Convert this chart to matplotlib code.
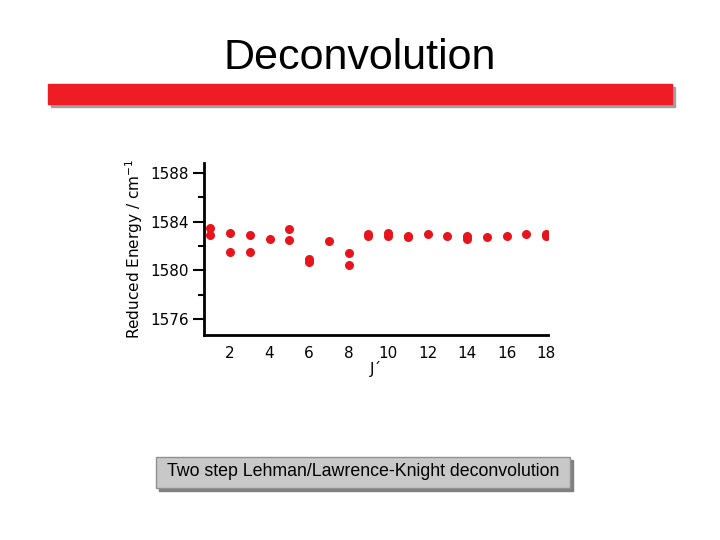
import matplotlib
matplotlib.use('Agg')
import matplotlib.pyplot as plt
from matplotlib.patches import Rectangle

J = [1, 1, 2, 2, 3, 3, 4, 5, 5, 6, 6, 7, 8, 8, 9, 9, 10, 10, 11, 11,
     12, 13, 14, 14, 15, 16, 17, 18, 18]
energy = [1583.5, 1582.9, 1583.1, 1581.5, 1582.9, 1581.5, 1582.6, 1583.4, 1582.5,
          1580.9, 1580.7, 1582.4, 1581.4, 1580.4, 1583.0, 1582.8, 1583.1, 1582.8,
          1582.8, 1582.7, 1582.95, 1582.85, 1582.8, 1582.6, 1582.7, 1582.8,
          1583.0, 1583.0, 1582.8]
xticks = [2, 4, 6, 8, 10, 12, 14, 16, 18]
yticks = [1576, 1580, 1584, 1588]

W, H = 720, 540
fig = plt.figure(figsize=(7.2, 5.4), dpi=100)

fig.text(360 / W, 1 - 58 / H, 'Deconvolution', ha='center', va='center',
         fontsize=31, family='Liberation Sans')

# red banner with grey shadow
fig.patches.append(Rectangle((51 / W, 1 - 107 / H), 624 / W, 20 / H,
                             transform=fig.transFigure, color='#a0a0a0', zorder=0))
fig.patches.append(Rectangle((48 / W, 1 - 104 / H), 624 / W, 20 / H,
                             transform=fig.transFigure, color='#ee1c24', zorder=1))

ax = fig.add_axes([204 / W, 1 - 335 / H, 344 / W, 172 / H])
ax.scatter(J, energy, s=30, color='#e8141c', zorder=3)
ax.set_xlim(0.68, 18.1)
ax.set_ylim(1574.7, 1588.8)
ax.set_xticks(xticks)
ax.set_yticks(yticks)
ax.set_yticks([1578, 1582, 1586], minor=True)
for s in ['top', 'right']:
    ax.spines[s].set_visible(False)
for s in ['left', 'bottom']:
    ax.spines[s].set_linewidth(2)
ax.tick_params(axis='x', length=0, labelsize=11, pad=8)
ax.tick_params(axis='y', which='major', length=8, width=1.5, labelsize=11, pad=3)
ax.tick_params(axis='y', which='minor', length=4, width=1.5)
ax.set_xlabel('J´', fontsize=11, labelpad=0)
ax.set_ylabel('Reduced Energy / cm$^{-1}$', fontsize=11, labelpad=4)

# caption box
fig.patches.append(Rectangle((159 / W, 1 - 491 / H), 414 / W, 31 / H,
                             transform=fig.transFigure, color='#808080', zorder=0))
fig.patches.append(Rectangle((156 / W, 1 - 488 / H), 414 / W, 31 / H,
                             transform=fig.transFigure, facecolor='#c8c8c8',
                             edgecolor='#909090', zorder=1))
fig.text(363 / W, 1 - 472 / H, 'Two step Lehman/Lawrence-Knight deconvolution',
         ha='center', va='center', fontsize=12.8, family='Liberation Sans')

fig.savefig('out.png', dpi=100)
